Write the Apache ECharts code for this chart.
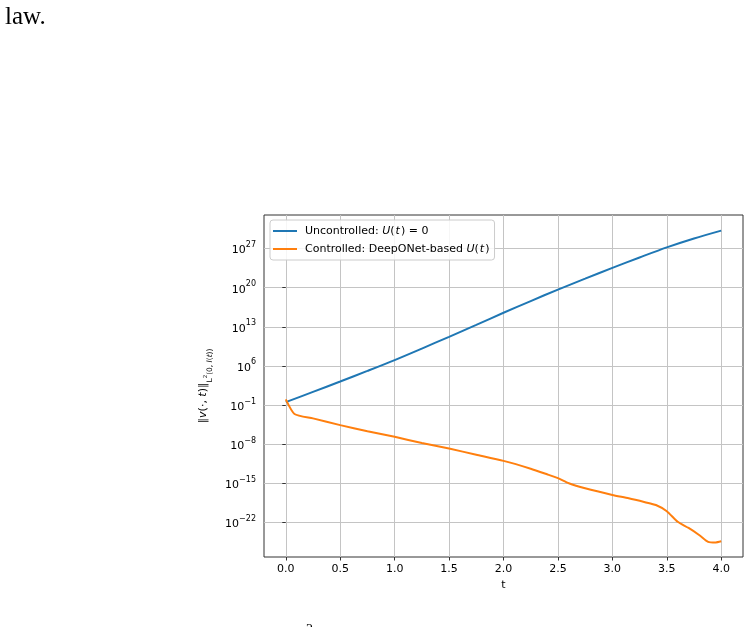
<!DOCTYPE html>
<html>
<head>
<meta charset="utf-8">
<script src="https://cdn.jsdelivr.net/npm/echarts@6/dist/echarts.min.js"></script>
<style>
  html, body { margin: 0; padding: 0; background: #fff; }
  #chart { width: 750px; height: 627px; }
</style>
</head>
<body>
<div id="chart"></div>
<script>
// time samples and norms
var tUncontrolled = [0, 0.25, 0.5, 0.75, 1.0, 1.25, 1.5, 1.75, 2.0, 2.25, 2.5, 2.75, 3.0, 3.25, 3.5, 3.75, 4.0];
var normUncontrolled = [0.32, 22.4, 1.6e3, 1.26e5, 1.1e7, 1.26e9, 1.6e11, 2.2e13, 3.2e15, 4e17, 4.5e19, 4e21, 3.5e23, 2.5e25, 1.6e27, 6.3e28, 1.6e30];

var tControlled = [0, 0.08, 0.25, 0.5, 0.75, 1.0, 1.25, 1.5, 1.75, 2.0, 2.25, 2.4, 2.5, 2.6, 2.75, 3.0, 3.15, 3.3, 3.4, 3.5, 3.6, 3.7, 3.8, 3.88, 3.95, 4.0];
var normControlled = [1, 2.5e-3, 4e-4, 2.5e-5, 2e-6, 2e-7, 1.6e-8, 1.6e-9, 1.26e-10, 1e-11, 4e-13, 4e-14, 8e-15, 1e-15, 1.26e-16, 8e-18, 2e-18, 4e-19, 1.26e-19, 1e-20, 1.26e-22, 1e-23, 5e-25, 3.2e-26, 2.5e-26, 4e-26];

var xTicks = [0, 0.5, 1.0, 1.5, 2.0, 2.5, 3.0, 3.5, 4.0];
var yTicks = [1e-22, 1e-15, 1e-8, 1e-1, 1e6, 1e13, 1e20, 1e27];

var seriesNames = ['Uncontrolled', 'Controlled'];

function pairs(ts, vs) {
    return ts.map(function(t, i) { return [t, vs[i]]; });
}

var font = 'DejaVu Sans';
var axisColor = '#333';
var gridColor = '#c4c4c4';

var chart = echarts.init(document.getElementById('chart'), null, { renderer: 'canvas' });

var option = {
    animation: false,
    backgroundColor: '#fff',
    textStyle: { fontFamily: font },
    grid: {
        left: 264, right: 7, top: 215, bottom: 70,
        show: true, borderColor: axisColor, borderWidth: 1
    },
    legend: {
        orient: 'vertical',
        left: 270, top: 220,
        padding: [4, 5, 4, 3],
        itemGap: 4,
        itemWidth: 24, itemHeight: 2,
        icon: 'rect',
        backgroundColor: 'rgba(255,255,255,0.85)',
        borderColor: '#cccccc', borderWidth: 1, borderRadius: 3,
        data: seriesNames,
        formatter: function(name) {
            if (name === 'Uncontrolled') {
                return 'Uncontrolled: {i|U}(\u200A{i|t}\u200A) = 0';
            }
            return 'Controlled: DeepONet-based {i|U}(\u200A{i|t}\u200A)';
        },
        textStyle: {
            fontFamily: font, fontSize: 11, color: '#000', lineHeight: 14,
            padding: [0, 0, 0, 3],
            rich: { i: { fontFamily: font, fontSize: 11, fontStyle: 'italic', color: '#000' } }
        }
    },
    xAxis: {
        type: 'value',
        min: -0.2, max: 4.2,
        name: 't',
        nameLocation: 'middle',
        nameGap: 23,
        nameTextStyle: { fontFamily: font, fontSize: 11, color: '#000' },
        axisLine: { show: false },
        axisTick: { show: true, customValues: xTicks, length: 3.5, lineStyle: { color: axisColor } },
        axisLabel: {
            customValues: xTicks, margin: 7,
            fontFamily: font, fontSize: 11, color: '#000',
            formatter: function(v) { return v.toFixed(1); }
        },
        splitLine: { show: true, lineStyle: { color: gridColor, width: 1 } }
    },
    yAxis: {
        type: 'log',
        logBase: 10,
        min: Math.pow(10, -28.2), max: Math.pow(10, 33),
        name: '{n|\u2016}{i|v}{n|(\u00B7, }{i|t}{n|)\u2016}{s|L}{ss|2}{s|(0, }{si|l}{s|(}{si|t}{s|))}',
        nameLocation: 'middle',
        nameGap: 36,
        nameTextStyle: {
            fontFamily: font, color: '#000',
            rich: {
                n: { fontFamily: font, fontSize: 11, color: '#000', verticalAlign: 'top', lineHeight: 17 },
                i: { fontFamily: font, fontSize: 11, fontStyle: 'italic', color: '#000', verticalAlign: 'top', lineHeight: 17 },
                s: { fontFamily: font, fontSize: 7.5, color: '#000', verticalAlign: 'bottom' },
                si: { fontFamily: font, fontSize: 7.5, fontStyle: 'italic', color: '#000', verticalAlign: 'bottom' },
                ss: { fontFamily: font, fontSize: 5.5, color: '#000', verticalAlign: 'middle' }
            }
        },
        axisLine: { show: false },
        axisTick: { show: true, customValues: yTicks, length: 3.5, lineStyle: { color: axisColor } },
        minorTick: { show: false },
        axisLabel: {
            customValues: yTicks, margin: 8,
            formatter: function(v) {
                var e = Math.round(Math.log10(v));
                var s = e < 0 ? '\u2212' + (-e) : '' + e;
                return '{b|10}{e|' + s + '}';
            },
            rich: {
                b: { fontFamily: font, fontSize: 11, color: '#000', verticalAlign: 'bottom', lineHeight: 15 },
                e: { fontFamily: font, fontSize: 8, color: '#000', verticalAlign: 'top' }
            }
        },
        splitLine: { show: true, lineStyle: { color: gridColor, width: 1 } }
    },
    graphic: [
        {
            type: 'text', left: 5, top: 5,
            style: { text: 'law.', font: '25px "Liberation Serif"', fill: '#000' }
        },
        {
            type: 'text', left: 306, top: 623,
            style: { text: '2', font: '14px "Liberation Serif"', fill: '#000' }
        }
    ],
    series: [
        {
            name: 'Uncontrolled',
            type: 'line',
            data: pairs(tUncontrolled, normUncontrolled),
            showSymbol: false,
            smooth: 0.3,
            color: '#1f77b4',
            lineStyle: { width: 2, color: '#1f77b4' }
        },
        {
            name: 'Controlled',
            type: 'line',
            data: pairs(tControlled, normControlled),
            showSymbol: false,
            smooth: 0.2,
            color: '#ff7f0e',
            lineStyle: { width: 2, color: '#ff7f0e' }
        }
    ]
};

chart.setOption(option);
</script>
</body>
</html>
